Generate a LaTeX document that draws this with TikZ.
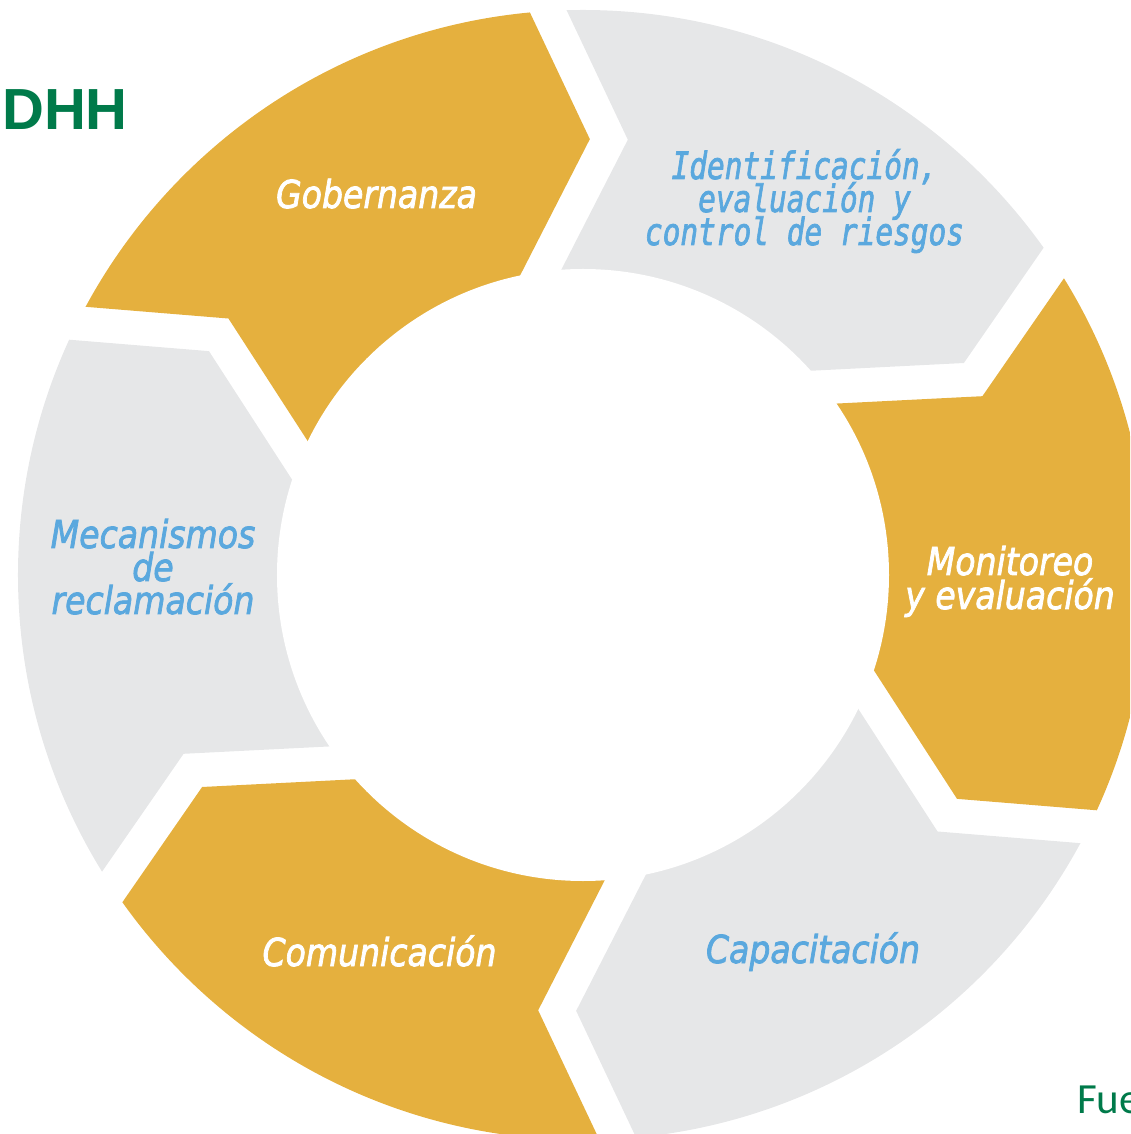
\documentclass[tikz,border=0pt]{standalone}
\usepackage{graphicx}
\usepackage{fontspec}
\newfontfamily\labelfont{DejaVu Sans}[ItalicFeatures={FakeBold=2.2}]
\newfontfamily\monolabel{DejaVu Sans Mono}[ItalicFeatures={FakeBold=2.2}]
\newfontfamily\titlefont{Liberation Sans}
\newfontfamily\srcfont{Carlito}
\definecolor{gold}{RGB}{229,176,62}
\definecolor{ringgray}{RGB}{230,231,232}
\definecolor{txtblue}{RGB}{90,168,222}
\definecolor{dgreen}{RGB}{0,122,74}
% #1 = angle of the leading tip, #2 = fill colour
\newcommand\ringseg[2]{%
  \fill[#2] ({#1+68.105}:729.2pt) -- ({#1+55.018}:437.6pt) -- ({#1+87.10}:197.6pt)
    -- ({#1+36.04}:217.5pt) -- ({#1}:435.9pt) -- ({#1+11.04}:735.5pt) -- cycle;}
\newcommand\sqz[1]{\scalebox{0.86}[1]{#1}}
\newcommand\sqm[1]{\scalebox{0.785}[1]{#1}}
\tikzset{
  lbl/.style={anchor=base, inner sep=0pt, font=\labelfont\itshape\fontsize{38.5}{38.5}\selectfont},
  wlbl/.style={lbl, text=white},
  blbl/.style={lbl, text=txtblue},
  mlbl/.style={anchor=base, inner sep=0pt, text=txtblue, font=\monolabel\itshape\fontsize{37.5}{37.5}\selectfont},
}
\begin{document}
\begin{tikzpicture}[x=1pt,y=1pt]
\useasboundingbox (-583,-559) rectangle (547,575);
\clip (-583,-559) rectangle (547,575);
\begin{scope}
  \clip (0,0) circle (565pt);
  \ringseg{89.1}{gold}       % Gobernanza
  \ringseg{29.1}{ringgray}   % Identificacion
  \ringseg{-30.9}{gold}      % Monitoreo
  \ringseg{-90.9}{ringgray}  % Capacitacion
  \ringseg{-150.9}{gold}     % Comunicacion
  \ringseg{149.1}{ringgray}  % Mecanismos
\end{scope}
\fill[white] (0,0) circle (306pt);

\node[wlbl] (gob) at (-206.5,367) {\sqz{Gobernanza}};
\node[mlbl] (id1) at (221.5,396) {\sqm{Identificación,}};
\node[mlbl] (id2) at (221.5,363) {\sqm{evaluación y}};
\node[mlbl] (id3) at (221.5,330) {\sqm{control de riesgos}};
\node[wlbl] (mon1) at (427,0) {\sqz{Monitoreo}};
\node[wlbl] (mon2) at (427,-34) {\sqz{y evaluación}};
\node[blbl] (cap) at (230,-388) {\sqz{Capacitación}};
\node[wlbl] (com) at (-203.5,-391) {\sqz{Comunicación}};
\node[blbl] (mec1) at (-430,27) {\sqz{Mecanismos}};
\node[blbl] (mec2) at (-430,-6) {\sqz{de}};
\node[blbl] (mec3) at (-430,-39) {\sqz{reclamación}};

\node[anchor=base west, inner sep=0pt, text=dgreen,
      font=\titlefont\bfseries\fontsize{58}{58}\selectfont] (title) at (-581,445) {DHH};
\node[anchor=base west, inner sep=0pt, text=dgreen,
      font=\srcfont\fontsize{43}{43}\selectfont] (src) at (494,-538) {Fue};
\end{tikzpicture}
\end{document}
